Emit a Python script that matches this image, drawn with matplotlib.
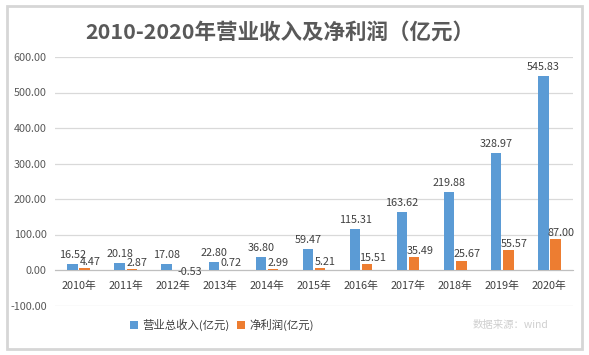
import matplotlib
matplotlib.use("Agg")
import matplotlib.pyplot as plt
from matplotlib.patches import Rectangle
import numpy as np

plt.rcParams['font.family'] = ['Noto Sans CJK SC', 'DejaVu Sans']

# Data (亿元)
years = ['2010年', '2011年', '2012年', '2013年', '2014年', '2015年',
         '2016年', '2017年', '2018年', '2019年', '2020年']
revenue = [16.52, 20.18, 17.08, 22.80, 36.80, 59.47, 115.31, 163.62, 219.88, 328.97, 545.83]
profit = [4.47, 2.87, -0.53, 0.72, 2.99, 5.21, 15.51, 35.49, 25.67, 55.57, 87.00]

blue = '#5B9BD5'
orange = '#ED7D31'
text_c = '#404040'

fig = plt.figure(figsize=(5.89, 3.55), dpi=100)
fig.patch.set_facecolor('white')

# chart frame
fig.patches.append(Rectangle((0.012, 0.018), 0.976, 0.965, transform=fig.transFigure,
                             facecolor='none', edgecolor='#D6D6D6', lw=2.0))

ax = fig.add_axes([55 / 589, 1 - 305.5 / 355, (573 - 55) / 589, (305.5 - 57) / 355])

x = np.arange(len(years))
w = 0.22
off = 0.13
ax.bar(x - off, revenue, w, color=blue, label='营业总收入(亿元)', zorder=3)
ax.bar(x + off, profit, w, color=orange, label='净利润(亿元)', zorder=3)

for xi, v in zip(x, revenue):
    ax.annotate(f'{v:.2f}', (xi - off, v), xytext=(0, 3), textcoords='offset points',
                ha='center', va='bottom', fontsize=7.8, color=text_c)
for xi, v in zip(x, profit):
    if v >= 0:
        ax.annotate(f'{v:.2f}', (xi + off, v), xytext=(4, 1), textcoords='offset points',
                    ha='center', va='bottom', fontsize=7.8, color=text_c)
    else:
        ax.annotate(f'{v:.2f}', (xi + off, v), xytext=(8, -1), textcoords='offset points',
                    ha='center', va='center', fontsize=7.8, color=text_c)

ax.set_xlim(-0.5, len(years) - 0.5)
ax.set_ylim(-100, 600)
ax.set_yticks(np.arange(-100, 601, 100))
ax.yaxis.set_major_formatter(matplotlib.ticker.FormatStrFormatter('%.2f'))
ax.grid(axis='y', color='#D9D9D9', lw=0.9, zorder=0)
ax.set_axisbelow(True)

ax.set_xticks(x)
ax.set_xticklabels(years)
ax.spines['bottom'].set_position(('data', 0))
ax.spines['bottom'].set_color('#BFBFBF')
for s in ['left', 'right', 'top']:
    ax.spines[s].set_visible(False)
ax.tick_params(axis='x', length=0, pad=8, labelsize=7.8, labelcolor=text_c)
ax.tick_params(axis='y', length=0, pad=6, labelsize=7.8, labelcolor='#595959')

fig.text(0.475, 0.91, '2010-2020年营业收入及净利润（亿元）', ha='center', va='center',
         fontsize=15.5, fontweight='bold', color='#595959')

fig.legend(loc='center', bbox_to_anchor=(222 / 589, 1 - 325 / 355), ncol=2, frameon=False,
           fontsize=8.2, handlelength=0.7, handleheight=0.7, handletextpad=0.4,
           columnspacing=0.6, labelcolor=text_c)

fig.text(510 / 589, 1 - 325 / 355, '数据来源：wind', ha='center', va='center',
         fontsize=7.5, color='#CFCFCF')

fig.savefig('out.png', dpi=100, facecolor='white')
